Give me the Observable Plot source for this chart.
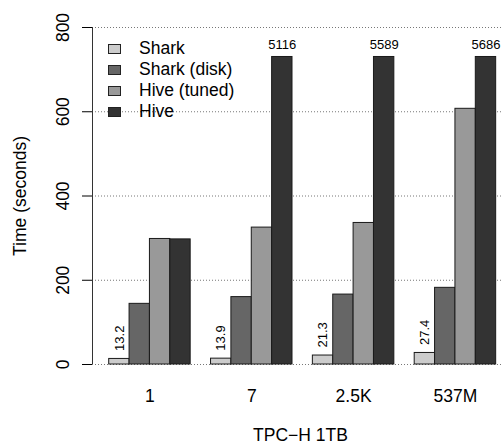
<!DOCTYPE html>
<html>
<head>
<meta charset="utf-8">
<script src="https://cdn.jsdelivr.net/npm/d3@7"></script>
<script src="https://cdn.jsdelivr.net/npm/@observablehq/plot@0.6"></script>
<style>
  html, body { margin: 0; padding: 0; background: #fff; }
  #wrap { position: relative; width: 503px; height: 447px; font-family: "Liberation Sans", Arial, Helvetica, sans-serif; }
  #legend { position: absolute; left: 108px; top: 38px; }
  .row { display: flex; align-items: center; height: 21px; }
  .sw { width: 11px; height: 8px; border: 1px solid #222; margin-right: 18px; box-sizing: content-box; }
  .lab { font-size: 17.5px; color: #000; line-height: 21px; }
</style>
</head>
<body>
<div id="wrap"></div>
<script>
// ---- data ----
const groups = ["1", "7", "2.5K", "537M"];
const series = ["Shark", "Shark (disk)", "Hive (tuned)", "Hive"];
const shark = [13.2, 13.9, 21.3, 27.4];
const sharkDisk = [144, 160, 166, 182];
const hiveTuned = [298, 325, 336, 607];
const hive = [297, 5116, 5589, 5686];
const colors = ["#cccccc", "#666666", "#999999", "#333333"];
const yTicks = [0, 200, 400, 600, 800];
const xTitle = "TPC\u2212H 1TB";
const yTitle = "Time (seconds)";
const cap = 730; // off-scale bars are cut at this height

// ---- table ----
const seriesValues = [shark, sharkDisk, hiveTuned, hive];
const rows = [];
groups.forEach((g, gi) => {
  series.forEach((s, si) => {
    const v = seriesValues[si][gi];
    rows.push({group: g, series: s, value: v, shown: Math.min(v, cap),
      x1: gi * 5 + si, x2: gi * 5 + si + 1, xc: gi * 5 + si + 0.5});
  });
});
const groupRows = groups.map((g, gi) => ({group: g, xc: gi * 5 + 2}));
const xDomain = [-0.82, 19.36];

const chart = Plot.plot({
  width: 503,
  height: 447,
  marginLeft: 92,
  marginRight: 0,
  marginTop: 27,
  marginBottom: 83,
  style: {fontFamily: '"Liberation Sans", Arial, Helvetica, sans-serif', background: "#fff"},
  x: {type: "linear", domain: xDomain, axis: null},
  y: {domain: [0, 800], axis: null},
  color: {domain: series, range: colors},
  marks: [
    Plot.ruleY(yTicks, {stroke: "#777", strokeDasharray: "1,2", strokeWidth: 1}),
    Plot.rectY(rows, {x1: "x1", x2: "x2", y1: 0, y2: "shown", fill: "series", stroke: "#1a1a1a", strokeWidth: 1}),
    Plot.text(rows.filter(d => d.series === "Shark"), {
      x: "xc", y: "shown", text: d => String(d.value), rotate: -90,
      textAnchor: "start", lineAnchor: "middle", dy: -8, fontSize: 13, fill: "#000"
    }),
    Plot.text(rows.filter(d => d.value > cap), {
      x: "xc", y: "shown", text: d => String(d.value),
      lineAnchor: "bottom", dy: -8, fontSize: 13, fill: "#000"
    }),
    Plot.ruleX([xDomain[0]], {y1: 0, y2: 800, stroke: "#333", strokeWidth: 1}),
    Plot.axisY({ticks: yTicks, tickSize: 10, tickFormat: () => "", label: null, stroke: "#000"}),
    Plot.text(yTicks, {
      y: d => d, text: d => String(d), frameAnchor: "left", rotate: -90,
      textAnchor: "middle", lineAnchor: "bottom", dx: -24, fontSize: 17.5, fill: "#000"
    }),
    Plot.text([yTitle], {
      frameAnchor: "left", rotate: -90, textAnchor: "middle", lineAnchor: "bottom",
      dx: -67, fontSize: 17.5, fill: "#000"
    }),
    Plot.text(groupRows, {
      x: "xc", text: "group", frameAnchor: "bottom", lineAnchor: "bottom",
      dy: 37, fontSize: 17.5, fill: "#000"
    }),
    Plot.text([xTitle], {
      frameAnchor: "bottom", lineAnchor: "bottom", dy: 76, dx: 2.5, fontSize: 17.5, fill: "#000"
    })
  ]
});

const wrap = document.getElementById("wrap");
wrap.appendChild(chart);

// legend overlay (inside plot area, no background)
const legend = document.createElement("div");
legend.id = "legend";
series.forEach((s, i) => {
  const row = document.createElement("div");
  row.className = "row";
  const sw = document.createElement("div");
  sw.className = "sw";
  sw.style.background = colors[i];
  const lab = document.createElement("span");
  lab.className = "lab";
  lab.textContent = s;
  row.appendChild(sw);
  row.appendChild(lab);
  legend.appendChild(row);
});
wrap.appendChild(legend);
</script>
</body>
</html>
